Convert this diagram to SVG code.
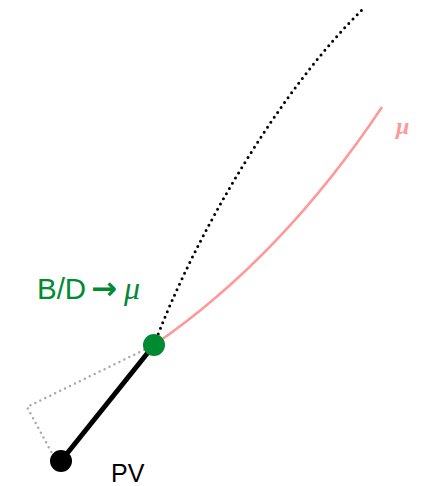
<svg xmlns="http://www.w3.org/2000/svg" width="421" height="486" viewBox="0 0 421 486">
<style>
.dot{stroke-linecap:round;fill:none}
.lbl{font-family:"Liberation Sans",Arial,sans-serif}
.arr{font-family:"DejaVu Sans",sans-serif}
.mu{font-family:"Liberation Serif","Times New Roman",serif;font-style:italic}
</style>
<rect width="421" height="486" fill="#fff"/>
<g id="connectors">
<path d="M154,345 C195,235 280,90 362,10" stroke="#000" stroke-width="3" stroke-dasharray="0 6" class="dot"/>
<path d="M154,345 Q282,257 382,107" stroke="#ff9999" stroke-width="2.5" fill="none"/>
<path d="M154,345 L27,407 L54,457" stroke="#aaaaaa" stroke-width="2.5" stroke-dasharray="0 5.5" class="dot"/>
<line x1="61" y1="461" x2="154" y2="345" stroke="#000" stroke-width="5"/>
</g>
<g id="pv">
<circle cx="61" cy="461" r="11" fill="#000"/>
<text class="lbl" x="111" y="482" font-size="25" fill="#000">PV</text>
</g>
<g id="decay">
<circle cx="154" cy="345" r="11" fill="#008a32"/>
<text class="lbl" x="37" y="299" font-size="29.5" fill="#008a32">B/D<tspan class="arr" x="91" font-size="31" font-weight="bold">→</tspan><tspan class="mu" x="124" font-size="32">μ</tspan></text>
</g>
<g id="muon">
<text class="mu" x="396" y="134" font-size="24" font-weight="bold" fill="#ff9999">μ</text>
</g>
</svg>
